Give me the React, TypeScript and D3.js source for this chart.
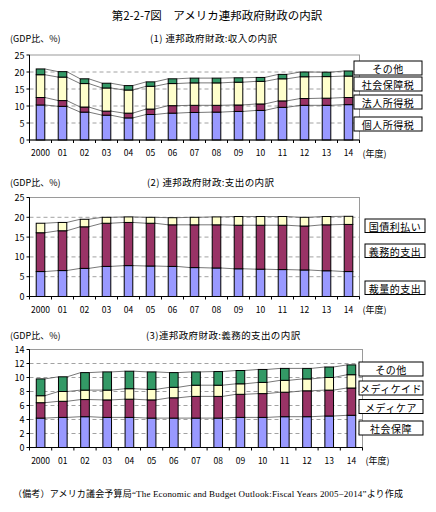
import React from "react";
import * as d3 from "d3";

const years = ["2000", "01", "02", "03", "04", "05", "06", "07", "08", "09", "10", "11", "12", "13", "14"];

// (1) Revenue (GDP %)
const revLabels = ["個人所得税", "法人所得税", "社会保障税", "その他"];
const revIndividual = [10.3, 9.9, 8.2, 7.3, 6.5, 7.5, 7.9, 8.1, 8.2, 8.4, 8.7, 9.6, 10.2, 10.2, 10.4];
const revCorporate = [2.2, 1.7, 1.5, 1.2, 1.4, 1.6, 2.2, 2.1, 2.0, 1.9, 1.9, 1.9, 2.0, 2.1, 2.1];
const revSocial = [6.7, 6.9, 6.9, 6.8, 6.8, 6.7, 6.5, 6.6, 6.6, 6.7, 6.65, 6.5, 6.4, 6.35, 6.3];
const revOther = [1.7, 1.6, 1.4, 1.4, 1.3, 1.3, 1.4, 1.4, 1.4, 1.3, 1.15, 1.3, 1.4, 1.3, 1.5];

// (2) Outlays (GDP %)
const outLabels = ["裁量的支出", "義務的支出", "国債利払い"];
const outDiscretionary = [6.3, 6.55, 7.1, 7.6, 7.8, 7.7, 7.6, 7.3, 7.2, 7.0, 6.9, 6.8, 6.7, 6.5, 6.3];
const outMandatory = [9.8, 10.05, 10.5, 10.9, 10.9, 10.8, 10.5, 10.8, 10.9, 11.0, 11.1, 11.2, 11.1, 11.6, 11.9];
const outInterest = [2.4, 2.1, 1.9, 1.5, 1.4, 1.5, 1.8, 1.9, 2.0, 2.2, 2.2, 2.2, 2.2, 2.1, 2.05];

// (3) Mandatory outlays (GDP %)
const manLabels = ["社会保障", "メディケア", "メディケイド", "その他"];
const manSocialSecurity = [4.2, 4.3, 4.4, 4.3, 4.3, 4.2, 4.2, 4.2, 4.2, 4.3, 4.3, 4.4, 4.4, 4.5, 4.6];
const manMedicare = [2.2, 2.3, 2.45, 2.5, 2.6, 2.6, 2.9, 3.1, 3.1, 3.3, 3.4, 3.5, 3.7, 3.7, 3.9];
const manMedicaid = [1.0, 1.4, 1.35, 1.4, 1.5, 1.5, 1.5, 1.6, 1.6, 1.5, 1.6, 1.7, 1.7, 1.8, 1.9];
const manOther = [2.4, 2.1, 2.5, 2.6, 2.5, 2.5, 2.1, 1.9, 1.95, 1.9, 1.85, 1.7, 1.5, 1.5, 1.4];

const yTicks1 = [0, 5, 10, 15, 20, 25];
const yTicks2 = [0, 5, 10, 15, 20, 25];
const yTicks3 = [0, 2, 4, 6, 8, 10, 12, 14];

const titleText = "第2-2-7図　アメリカ連邦政府財政の内訳";
const sub1 = "(1)  連邦政府財政:収入の内訳";
const sub2 = "(2)  連邦政府財政:支出の内訳";
const sub3 = "(3)連邦政府財政:義務的支出の内訳";
const unitText = "(GDP比、%)";
const yearUnit = "(年度)";
const noteText = "（備考）アメリカ議会予算局“The Economic and Budget Outlook:Fiscal Years 2005−2014”より作成";

const COLORS = ["#9999FF", "#993366", "#FFFFCC", "#339966"];
const SANS = "'Noto Sans CJK JP', 'Noto Sans', sans-serif";

type PanelProps = {
  series: number[][];
  labels: string[];
  ticks: number[];
  x0: number;
  x1: number;
  yTop: number;
  yBase: number;
  titleY: number;
  subtitle: string;
  subX: number;
  legendX: number;
  legendW: number;
  legendYs: number[];
  legendH: number;
};

function Panel(p: PanelProps) {
  const n = years.length;
  const x = d3.scaleBand<string>().domain(years).range([p.x0, p.x1]).paddingInner(0.61).paddingOuter(0.305);
  const maxV = p.ticks[p.ticks.length - 1];
  const y = d3.scaleLinear().domain([0, maxV]).range([p.yBase, p.yTop]);
  const keys = p.series.map((_, i) => "s" + i);
  const rows = years.map((yr, j) => {
    const r: any = { year: yr };
    p.series.forEach((s, i) => (r["s" + i] = s[j]));
    return r;
  });
  const stack = d3.stack<any>().keys(keys)(rows);
  const bw = x.bandwidth();
  const step = x.step();
  const xLabelY = p.yBase + 12;
  return (
    <g>
      <text x={10} y={p.titleY} fontSize={9} fontFamily={SANS} dominantBaseline="central">{unitText}</text>
      <text x={p.subX} y={p.titleY} fontSize={9.5} letterSpacing={0.4} fontFamily={SANS} dominantBaseline="central">{p.subtitle}</text>
      <rect x={p.x0} y={p.yTop} width={p.x1 - p.x0} height={p.yBase - p.yTop} fill="#fff" stroke="#9a9a9a" strokeWidth={1} />
      {p.ticks.slice(1, -1).map((t) => (
        <line key={t} x1={p.x0} x2={p.x1} y1={y(t)} y2={y(t)} stroke="#8a8a8a" strokeWidth={0.8} strokeDasharray="4,3" />
      ))}
      {stack.map((layer, li) => (
        <g key={"sl" + li}>
          {layer.slice(0, -1).map((d, j) => {
            const xa = (x(years[j]) as number) + bw;
            const xb = x(years[j + 1]) as number;
            return <line key={j} x1={xa} x2={xb} y1={y(d[1])} y2={y(layer[j + 1][1])} stroke="#555" strokeWidth={0.8} />;
          })}
        </g>
      ))}
      {stack.map((layer, li) => (
        <g key={"l" + li}>
          {layer.map((d, j) => (
            <rect key={j} x={x(years[j])} y={y(d[1])} width={bw} height={y(d[0]) - y(d[1])} fill={COLORS[li]} stroke="#000" strokeWidth={1} />
          ))}
        </g>
      ))}
      <line x1={p.x0} x2={p.x0} y1={p.yTop} y2={p.yBase} stroke="#000" strokeWidth={1} />
      <line x1={p.x0} x2={p.x1} y1={p.yBase} y2={p.yBase} stroke="#000" strokeWidth={1} />
      {p.ticks.map((t) => (
        <g key={"yt" + t}>
          <line x1={p.x0 - 3} x2={p.x0} y1={y(t)} y2={y(t)} stroke="#000" strokeWidth={1} />
          <text x={p.x0 - 5} y={y(t)} fontSize={9} fontFamily={SANS} textAnchor="end" dominantBaseline="central">{t}</text>
        </g>
      ))}
      {d3.range(n + 1).map((i) => (
        <line key={"xt" + i} x1={p.x0 + i * step} x2={p.x0 + i * step} y1={p.yBase} y2={p.yBase + 3} stroke="#000" strokeWidth={1} />
      ))}
      {years.map((yr) => (
        <text key={yr} x={(x(yr) as number) + bw / 2} y={xLabelY} fontSize={8.5} fontFamily={SANS} textAnchor="middle" dominantBaseline="central">{yr}</text>
      ))}
      <text x={p.x1 + 3} y={xLabelY + 1} fontSize={9} fontFamily={SANS} dominantBaseline="central">{yearUnit}</text>
      {p.labels.map((lab, i) => (
        <g key={lab + i}>
          <rect x={p.legendX} y={p.legendYs[i]} width={p.legendW} height={p.legendH} fill="#fff" stroke="#000" strokeWidth={1} />
          <text x={p.legendX + p.legendW / 2} y={p.legendYs[i] + p.legendH / 2 + 0.5} fontSize={10} letterSpacing={0.5} fontFamily={SANS} textAnchor="middle" dominantBaseline="central">{lab}</text>
        </g>
      ))}
    </g>
  );
}

export default function App() {
  return (
    <svg width={436} height={512} viewBox="0 0 436 512" style={{ display: "block", position: "absolute", left: 0, top: 0, background: "#fff" }}>
      <rect x={0} y={0} width={436} height={512} fill="#fff" />
      <text x={217} y={15} fontSize={11.5} fontFamily={SANS} textAnchor="middle" dominantBaseline="central">{titleText}</text>
      <Panel
        series={[revIndividual, revCorporate, revSocial, revOther]}
        labels={revLabels}
        ticks={yTicks1}
        x0={29.5}
        x1={359.5}
        yTop={55}
        yBase={140}
        titleY={38}
        subtitle={sub1}
        subX={150}
        legendX={354}
        legendW={68}
        legendYs={[117, 95, 77, 61]}
        legendH={14}
      />
      <Panel
        series={[outDiscretionary, outMandatory, outInterest]}
        labels={outLabels}
        ticks={yTicks2}
        x0={29.5}
        x1={359.5}
        yTop={197.5}
        yBase={296.5}
        titleY={182}
        subtitle={sub2}
        subX={147}
        legendX={365}
        legendW={60}
        legendYs={[281, 244, 219]}
        legendH={13.5}
      />
      <Panel
        series={[manSocialSecurity, manMedicare, manMedicaid, manOther]}
        labels={manLabels}
        ticks={yTicks3}
        x0={29.5}
        x1={362.5}
        yTop={349.5}
        yBase={447.5}
        titleY={335}
        subtitle={sub3}
        subX={146}
        legendX={359}
        legendW={64}
        legendYs={[421, 399.5, 381, 362]}
        legendH={14}
      />
      <text x={13} y={494} fontSize={9} textLength={390} lengthAdjust="spacing" fontFamily="'Liberation Serif', 'Noto Sans CJK JP', serif" dominantBaseline="central">{noteText}</text>
    </svg>
  );
}
